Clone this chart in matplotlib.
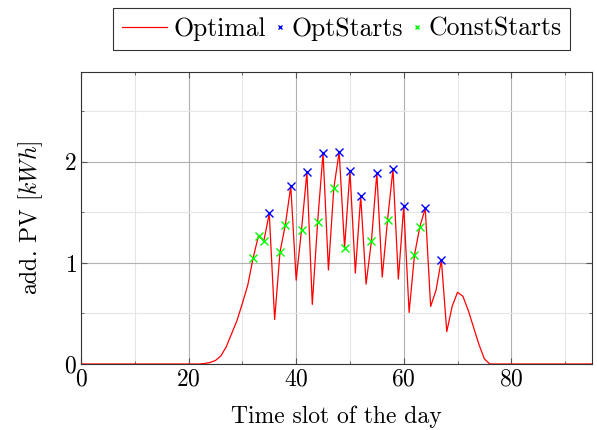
import numpy as np
import matplotlib
matplotlib.use("Agg")
import matplotlib.pyplot as plt
from matplotlib.ticker import MultipleLocator
from matplotlib.legend_handler import HandlerLine2D

plt.rcParams["font.family"] = "serif"
plt.rcParams["font.serif"] = ["cmr10", "DejaVu Serif"]
plt.rcParams["mathtext.fontset"] = "cm"
plt.rcParams["axes.formatter.use_mathtext"] = True

# time slots 0..95
slots = np.arange(96)
optimal = [0.0] * 22 + [
    0.0, 0.005, 0.015, 0.035, 0.08, 0.17, 0.30, 0.43, 0.60, 0.78,   # 22-31
    1.05, 1.27, 1.22, 1.49, 0.44, 1.11, 1.38, 1.76, 0.83, 1.33,     # 32-41
    1.90, 0.59, 1.41, 2.09, 0.93, 1.74, 2.10, 1.15, 1.91, 0.90,     # 42-51
    1.66, 0.79, 1.22, 1.89, 0.86, 1.43, 1.93, 0.84, 1.56, 0.51,     # 52-61
    1.08, 1.36, 1.54, 0.57, 0.73, 1.03, 0.32, 0.57, 0.71, 0.67,     # 62-71
    0.53, 0.36, 0.19, 0.05,                                         # 72-75
] + [0.0] * 20

opt_starts = [35, 39, 42, 45, 48, 50, 52, 55, 58, 60, 64, 67]
const_starts = [32, 33, 34, 37, 38, 41, 44, 47, 49, 54, 57, 62, 63]

optimal = np.array(optimal)
FS = 17
LEG_FS = 18.5


class RightMarker(HandlerLine2D):
    # pgfplots-style: the mark sits right before its text
    def get_xdata(self, legend, xdescent, ydescent, width, height, fontsize):
        pos = -xdescent + width - 0.16 * fontsize
        return [pos - 0.5, pos + 0.5], [pos]


fig = plt.figure(figsize=(5.97, 4.30), dpi=100)
ax = fig.add_axes([81 / 597, 1 - 364 / 430, 511 / 597, 292 / 430])

line, = ax.plot(slots, optimal, color="red", linewidth=0.9, label="Optimal", zorder=3)
m1, = ax.plot(opt_starts, optimal[opt_starts], "x", color="blue", markersize=6,
              markeredgewidth=1.0, label="OptStarts", zorder=4)
m2, = ax.plot(const_starts, optimal[const_starts], "x", color="#00ff00", markersize=6,
              markeredgewidth=1.0, label="ConstStarts", zorder=4)

ax.set_xlim(0, 95)
ax.set_ylim(0, 2.89)
ax.xaxis.set_major_locator(MultipleLocator(20))
ax.xaxis.set_minor_locator(MultipleLocator(10))
ax.yaxis.set_major_locator(MultipleLocator(1))
ax.yaxis.set_minor_locator(MultipleLocator(0.5))
ax.grid(which="major", color="#b0b0b0", linewidth=0.8)
ax.grid(which="minor", color="#e6e6e6", linewidth=0.8)
ax.set_axisbelow(True)
ax.tick_params(which="both", direction="in", top=True, right=True,
               labelsize=FS, color="#555555", pad=3)
ax.tick_params(which="major", length=4)
ax.tick_params(which="minor", length=2.5)
for s in ax.spines.values():
    s.set_color("#333333")
    s.set_linewidth(0.8)

ax.set_xlabel("Time slot of the day", fontsize=FS, labelpad=11)
ax.set_ylabel(r"add. PV [$kWh$]", fontsize=FS, labelpad=14)

leg = ax.legend(handles=[line, m1, m2], loc="center",
                bbox_to_anchor=(341.5 / 597, 1 - 29 / 430),
                bbox_transform=fig.transFigure, ncol=3, fontsize=LEG_FS,
                frameon=True, fancybox=False, edgecolor="black",
                handlelength=1.75, handletextpad=0.28, columnspacing=-1.05,
                borderpad=0.35, markerscale=0.6,
                handler_map={m1: RightMarker(), m2: RightMarker()})
leg.get_frame().set_linewidth(0.8)

fig.savefig("out.png", dpi=100)
